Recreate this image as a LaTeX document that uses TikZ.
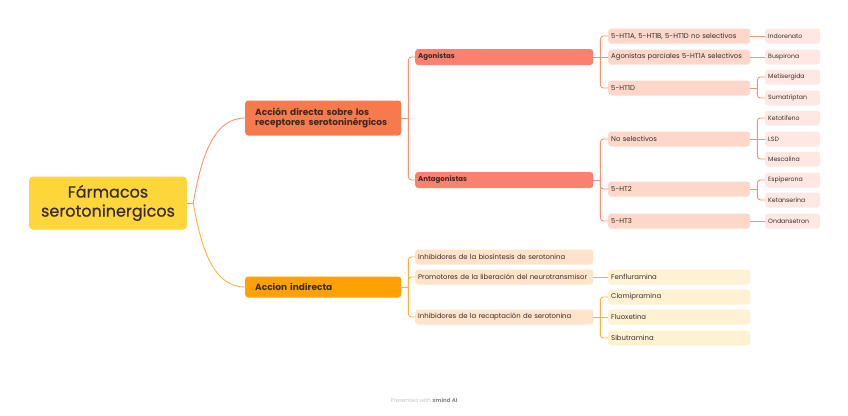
\documentclass[tikz,border=0pt]{standalone}
\usepackage{fontspec}
\setmainfont{Poppins}
\usetikzlibrary{calc}

\definecolor{rootyellow}{HTML}{FCD63A}
\definecolor{directfill}{HTML}{F67A4E}
\definecolor{indirectfill}{HTML}{FFA105}
\definecolor{salmonfill}{HTML}{FA8070}
\definecolor{peachfill}{HTML}{FDD8CA}
\definecolor{pinkfill}{HTML}{FFE8E4}
\definecolor{apricotfill}{HTML}{FFE3CB}
\definecolor{creamfill}{HTML}{FFF2D2}
\definecolor{linkred}{HTML}{F8926F}
\definecolor{linkorange}{HTML}{FFB03C}
\definecolor{textdark}{HTML}{3A2A25}
\definecolor{footgray}{HTML}{C4C4C4}

\begin{document}
\begin{tikzpicture}[x=1pt, y=-1pt,
    box/.style={rectangle, rounded corners=3pt, anchor=west, align=left, text=textdark, inner xsep=3pt, inner ysep=0pt, minimum height=15pt},
    rootbox/.style={rectangle, rounded corners=4pt, fill=rootyellow, minimum width=158pt, minimum height=53pt, align=center, text=textdark, font=\fontsize{16}{19}\selectfont\addfontfeature{FakeBold=0.6}},
    mainbox/.style={box, inner xsep=10pt, text width=136pt, font=\fontsize{9}{10.6}\selectfont\bfseries},
    subbox/.style={box, fill=salmonfill, text width=172pt, minimum height=16pt, font=\fontsize{7}{8}\selectfont\bfseries},
    leafbox/.style={box, text width=136pt, font=\fontsize{6.9}{8}\selectfont},
    drugbox/.style={box, fill=pinkfill, text width=49pt, font=\fontsize{6.2}{7}\selectfont},
    link/.style={line width=0.9pt, rounded corners=3pt}
]
\useasboundingbox (0,0) rectangle (848,415);

% Root and main branches
\node[rootbox] (root) at (108,203) {Fármacos\\serotoninergicos};
\node[mainbox, fill=directfill, minimum height=35pt] (direct) at (245,118) {Acción directa sobre los\\receptores serotoninérgicos};
\node[mainbox, fill=indirectfill, minimum height=21pt] (indirect) at (245,287) {Accion indirecta};

% Direct action
\node[subbox] (agon) at (415,57) {Agonistas};
\node[subbox] (antag) at (415,180) {Antagonistas};

\node[leafbox, fill=peachfill] (ag1) at (608,36) {5-HT1A, 5-HT1B, 5-HT1D no selectivos};
\node[leafbox, fill=peachfill] (ag2) at (608,57) {Agonistas parciales 5-HT1A selectivos};
\node[leafbox, fill=peachfill] (ag3) at (608,88) {5-HT1D};
\node[leafbox, fill=peachfill] (an1) at (608,139) {No selectivos};
\node[leafbox, fill=peachfill] (an2) at (608,189) {5-HT2};
\node[leafbox, fill=peachfill] (an3) at (608,221) {5-HT3};

\node[drugbox] (indorenato) at (765,36) {Indorenato};
\node[drugbox] (buspirona) at (765,57) {Buspirona};
\node[drugbox] (metisergida) at (765,77) {Metisergida};
\node[drugbox] (sumatriptan) at (765,98) {Sumatriptan};
\node[drugbox] (ketotifeno) at (765,118) {Ketotifeno};
\node[drugbox] (lsd) at (765,139) {LSD};
\node[drugbox] (mescalina) at (765,159) {Mescalina};
\node[drugbox] (espiperona) at (765,180) {Espiperona};
\node[drugbox] (ketanserina) at (765,200) {Ketanserina};
\node[drugbox] (ondansetron) at (765,221) {Ondansetron};

% Indirect action
\node[leafbox, fill=apricotfill, text width=172pt] (in1) at (415,257) {Inhibidores de la biosíntesis de serotonina};
\node[leafbox, fill=apricotfill, text width=172pt] (in2) at (415,277) {Promotores de la liberación del neurotransmisor};
\node[leafbox, fill=apricotfill, text width=172pt] (in3) at (415,317) {Inhibidores de la recaptación de serotonina};

\node[leafbox, fill=creamfill] (fenfluramina) at (608,277) {Fenfluramina};
\node[leafbox, fill=creamfill] (clomipramina) at (608,297) {Clomipramina};
\node[leafbox, fill=creamfill] (fluoxetina) at (608,317) {Fluoxetina};
\node[leafbox, fill=creamfill] (sibutramina) at (608,338) {Sibutramina};

\node[font=\fontsize{5.5}{6}\selectfont, text=footgray] (footer) at (424,400) {Presented with \textcolor{footgray!70!black}{\bfseries xmind AI}};

% Junctions
\coordinate (root-j) at ([xshift=6pt]root.east);
\coordinate (direct-j) at ([xshift=7pt]direct.east);
\coordinate (indirect-j) at ([xshift=7pt]indirect.east);
\coordinate (agon-j) at ([xshift=7pt]agon.east);
\coordinate (antag-j) at ([xshift=7pt]antag.east);
\coordinate (ag3-j) at ([xshift=7pt]ag3.east);
\coordinate (an1-j) at ([xshift=7pt]an1.east);
\coordinate (an2-j) at ([xshift=7pt]an2.east);
\coordinate (in3-j) at ([xshift=7pt]in3.east);

% Connections from the root
\draw[link, linkred] (root.east) -- (root-j);
\draw[link, linkred] (root-j) .. controls +(8,-45) and +(-32,0) .. (direct.west);
\draw[link, linkorange] (root-j) .. controls +(8,45) and +(-32,0) .. (indirect.west);

% Direct branch
\draw[link, linkred] (direct.east) -- (direct-j);
\draw[link, linkred] (direct-j) |- (agon.west);
\draw[link, linkred] (direct-j) |- (antag.west);

\draw[link, linkred] (agon.east) -- (agon-j);
\draw[link, linkred] (agon-j) |- (ag1.west);
\draw[link, linkred] (agon-j) -- (ag2.west);
\draw[link, linkred] (agon-j) |- (ag3.west);

\draw[link, linkred] (antag.east) -- (antag-j);
\draw[link, linkred] (antag-j) |- (an1.west);
\draw[link, linkred] (antag-j) |- (an2.west);
\draw[link, linkred] (antag-j) |- (an3.west);

\draw[link, linkred] (ag1.east) -- (indorenato.west);
\draw[link, linkred] (ag2.east) -- (buspirona.west);
\draw[link, linkred] (ag3.east) -- (ag3-j);
\draw[link, linkred] (ag3-j) |- (metisergida.west);
\draw[link, linkred] (ag3-j) |- (sumatriptan.west);

\draw[link, linkred] (an1.east) -- (an1-j);
\draw[link, linkred] (an1-j) |- (ketotifeno.west);
\draw[link, linkred] (an1-j) -- (lsd.west);
\draw[link, linkred] (an1-j) |- (mescalina.west);
\draw[link, linkred] (an2.east) -- (an2-j);
\draw[link, linkred] (an2-j) |- (espiperona.west);
\draw[link, linkred] (an2-j) |- (ketanserina.west);
\draw[link, linkred] (an3.east) -- (ondansetron.west);

% Indirect branch
\draw[link, linkorange] (indirect.east) -- (indirect-j);
\draw[link, linkorange] (indirect-j) |- (in1.west);
\draw[link, linkorange] (indirect-j) |- (in2.west);
\draw[link, linkorange] (indirect-j) |- (in3.west);

\draw[link, linkorange] (in2.east) -- (fenfluramina.west);
\draw[link, linkorange] (in3.east) -- (in3-j);
\draw[link, linkorange] (in3-j) |- (clomipramina.west);
\draw[link, linkorange] (in3-j) -- (fluoxetina.west);
\draw[link, linkorange] (in3-j) |- (sibutramina.west);
\end{tikzpicture}
\end{document}
